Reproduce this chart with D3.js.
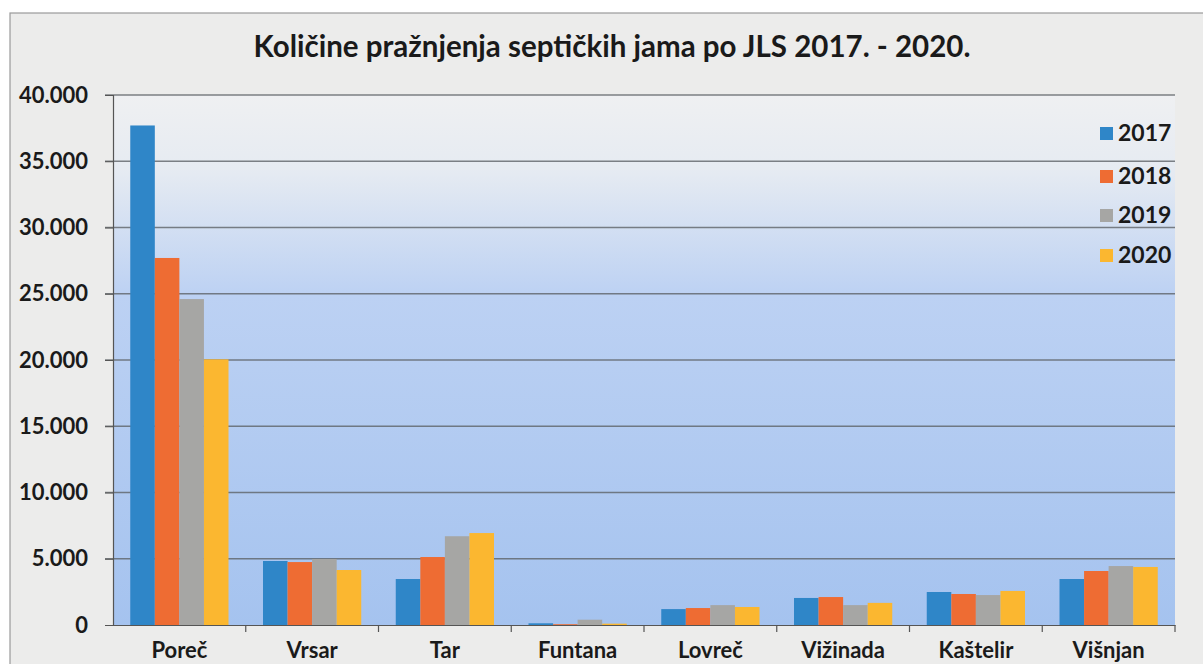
<!DOCTYPE html>
<html>
<head>
<meta charset="utf-8">
<script src="https://cdn.jsdelivr.net/npm/d3@7"></script>
<style>
  body { margin: 0; background: #fff; }
  svg { display: block; }
</style>
</head>
<body>
<svg id="chart" width="1203" height="664"></svg>
<script>
// data
const municipalities = ["Poreč", "Vrsar", "Tar", "Funtana", "Lovreč", "Vižinada", "Kaštelir", "Višnjan"];
const years = ["2017", "2018", "2019", "2020"];
const v2017 = [37700, 4830, 3470, 130, 1200, 2040, 2490, 3470];
const v2018 = [27700, 4750, 5130, 60, 1280, 2110, 2340, 4075];
const v2019 = [24600, 4980, 6700, 400, 1500, 1500, 2260, 4450];
const v2020 = [20050, 4150, 6940, 100, 1360, 1670, 2570, 4380];
const yTicks = [0, 5000, 10000, 15000, 20000, 25000, 30000, 35000, 40000];

const colors = ["#2f86c8", "#ee6c33", "#a6a6a4", "#fbb730"];
const seriesVals = [v2017, v2018, v2019, v2020];

var svg = d3.select("#chart");

var margin = {left: 113, right: 1175, top: 95, bottom: 625};

// outer panel
svg.append("rect")
  .attr("x", 10).attr("y", 13)
  .attr("width", 1200).attr("height", 660)
  .attr("fill", "#ececeb")
  .attr("stroke", "#9a9a9a")
  .attr("stroke-width", 1.2);

var defs = svg.append("defs");
var grad = defs.append("linearGradient")
  .attr("id", "bg").attr("x1", 0).attr("y1", 0).attr("x2", 0).attr("y2", 1);
grad.append("stop").attr("offset", "0%").attr("stop-color", "#eff0f2");
grad.append("stop").attr("offset", "14%").attr("stop-color", "#e6ebf2");
grad.append("stop").attr("offset", "38%").attr("stop-color", "#bcd1f3");
grad.append("stop").attr("offset", "100%").attr("stop-color", "#a5c3ef");

svg.append("rect")
  .attr("x", margin.left).attr("y", margin.top)
  .attr("width", margin.right - margin.left)
  .attr("height", margin.bottom - margin.top)
  .attr("fill", "url(#bg)");

var x = d3.scaleBand()
  .domain(municipalities)
  .range([margin.left, margin.right])
  .paddingInner(0.26)
  .paddingOuter(0.13);

var xs = d3.scaleBand()
  .domain(years)
  .range([0, x.bandwidth()]);

var y = d3.scaleLinear()
  .domain([0, 40000])
  .range([margin.bottom, margin.top]);

// grid lines
svg.selectAll("myGrid")
  .data(yTicks.filter(d => d > 0))
  .join("line")
    .attr("x1", margin.left - 8)
    .attr("x2", margin.right)
    .attr("y1", d => y(d))
    .attr("y2", d => y(d))
    .attr("stroke", "#5f6469")
    .attr("stroke-width", 1.3)
    .attr("opacity", 0.8);

// bars
var groups = svg.selectAll("myGroups")
  .data(municipalities)
  .join("g")
    .attr("transform", d => "translate(" + x(d) + ",0)");

groups.selectAll("rect")
  .data((d, i) => years.map((yr, j) => ({year: yr, value: seriesVals[j][i], k: j})))
  .join("rect")
    .attr("x", d => xs(d.year))
    .attr("y", d => y(d.value))
    .attr("width", xs.bandwidth())
    .attr("height", d => y(0) - y(d.value))
    .style("fill", d => colors[d.k]);

// y axis
var yAxis = svg.append("g")
  .attr("transform", "translate(" + margin.left + ",0)")
  .call(d3.axisLeft(y).tickValues(yTicks).tickSize(8).tickPadding(17)
    .tickFormat(d => d3.format(",")(d).replace(/,/g, ".")));
yAxis.select(".domain").attr("stroke", "#555").attr("stroke-width", 1.2);
yAxis.selectAll(".tick line").attr("stroke", "#555");
yAxis.selectAll("text")
  .attr("font-family", "Lato, 'Open Sans', sans-serif")
  .attr("font-weight", "bold")
  .attr("font-size", 22)
  .attr("fill", "#1a1a1a");

// x axis
var xAxis = svg.append("g")
  .attr("transform", "translate(0," + margin.bottom + ")")
  .call(d3.axisBottom(x).tickSize(0).tickPadding(0));
xAxis.select(".domain").attr("stroke", "#555").attr("stroke-width", 1.2);
xAxis.selectAll(".tick text")
  .attr("dy", null)
  .attr("y", 33)
  .attr("font-family", "Lato, 'Open Sans', sans-serif")
  .attr("font-weight", "bold")
  .attr("font-size", 22)
  .attr("fill", "#1a1a1a");

// category separator ticks
var bounds = municipalities.map(d => x(d) + x.bandwidth() + x.step() * x.paddingInner() / 2);
xAxis.selectAll("mySep")
  .data(bounds)
  .join("line")
    .attr("x1", d => d).attr("x2", d => d)
    .attr("y1", 0).attr("y2", 7)
    .attr("stroke", "#555")
    .attr("stroke-width", 1.2);

// title
svg.append("text")
  .attr("x", 612).attr("y", 57)
  .attr("text-anchor", "middle")
  .attr("font-family", "Lato, 'Open Sans', sans-serif")
  .attr("font-weight", "bold")
  .attr("font-size", 29.5)
  .attr("fill", "#1a1a1a")
  .text("Količine pražnjenja septičkih jama po JLS 2017. - 2020.");

// legend
var legend = svg.selectAll("myLegend")
  .data(years)
  .join("g")
    .attr("transform", (d, i) => "translate(1100," + [133, 176, 215, 255][i] + ")");
legend.append("rect")
  .attr("x", 0).attr("y", -6)
  .attr("width", 13).attr("height", 13)
  .style("fill", (d, i) => colors[i]);
legend.append("text")
  .attr("x", 18).attr("y", 8)
  .attr("font-family", "Lato, 'Open Sans', sans-serif")
  .attr("font-weight", "bold")
  .attr("font-size", 23)
  .attr("fill", "#1a1a1a")
  .text(d => d);
</script>
</body>
</html>
